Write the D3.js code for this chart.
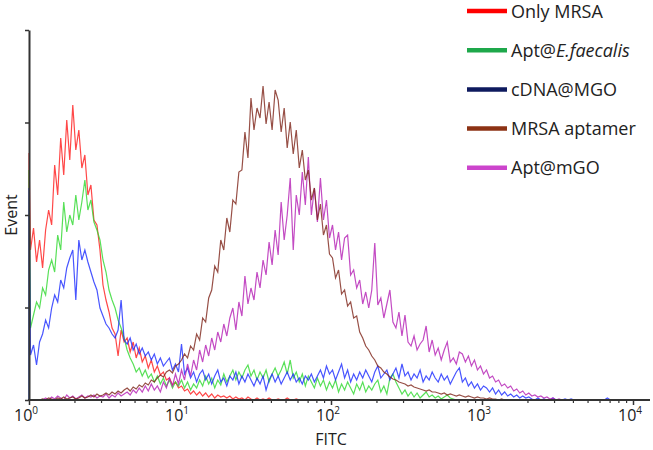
<!DOCTYPE html>
<html>
<head>
<meta charset="utf-8">
<script src="https://cdn.jsdelivr.net/npm/d3@7"></script>
<style>
  body { margin: 0; background: #fff; }
  text { font-family: "Open Sans", sans-serif; fill: #222; }
</style>
</head>
<body>
<div id="chart"></div>
<script>
// channels: 50 per decade, starting at 10^0
var binsPerDecade = 50;

var seriesNames = ["Only MRSA", "Apt@E.faecalis", "cDNA@MGO", "MRSA aptamer", "Apt@mGO"];
var lineColors = ["#ff1a1a", "#2ed82e", "#1a2bff", "#7d2318", "#b41eb4"];
var legendColors = ["#ff0000", "#1ea84b", "#0e1a5e", "#8c3214", "#cc44cc"];

// events piled up in the first channel (off-scale low)
var firstChannel = [247, 230, 212, 0, 0];

var onlyMRSA = [150,172,138,160,132,170,190,175,235,205, 262,225,280,240,295,250,270,232,245,205,
  215,180,175,150,115,100,88,72,66,44, 70,58,62,48,58,42,52,38,44,32,
  40,28,34,25,28,20,22,15,18,12, 14,9,11,6,9,5,8,4,7,3,
  6,2,5,3,4,2,4,1,3,1, 2,0,3,1,0,2,0,1,0,2, 0,0,1,0,0,2,0,0,1];

var aptEfaecalis = [72,85,98,92,112,105,130,140,128,165, 150,198,168,185,175,205,180,198,220,190,
  200,178,170,160,140,128,110,100,92,80, 72,62,50,42,36,28,32,24,30,22,
  26,18,24,16,22,14,20,12,18,14, 20,12,18,10,16,12,20,14,24,16,
  22,12,20,15,26,18,24,30,20,28, 22,30,35,24,30,20,28,22,30,18,
  26,32,24,30,38,26,40,22,28,18, 26,14,24,18,12,22,14,20,10,18,
  12,20,8,16,10,18,12,6,16,10, 18,8,14,10,16,20,8,14,6,22,
  26,18,12,6,10,4,8,3,7,2, 5,8,3,5,2,4,1,3,5,2, 1];

var cDNAmgo = [45,55,35,58,66,80,72,92,105,98, 120,112,132,142,150,100,160,140,150,138,
  128,118,110,92,84,76,72,66,62,70, 100,60,56,62,50,56,46,52,44,48,
  40,46,36,42,34,38,42,30,36,28, 56,26,32,22,28,18,26,30,20,26,
  16,24,30,18,22,14,24,20,28,16, 24,18,26,20,14,22,16,24,10,20,
  26,18,24,16,22,28,20,26,18,22, 16,24,20,26,18,24,30,22,34,26,
  30,20,28,36,22,30,18,26,20,28, 22,30,24,18,28,34,22,26,30,20,
  26,32,22,36,24,28,20,26,22,30, 18,24,20,28,22,18,26,20,24,16,
  22,28,32,18,22,14,18,12,16,10, 14,12,8,12,6,10,5,8,4,6,
  3,5,2,4,2,3,1,0,2,0, 1,0,0,2,0,0,0,1,0,1, 0,0,0,0,0,0,0,0,0,0, 0,2];

var mrsaAptamer = [0,0,0,0,1,0,2,1,0,2, 1,3,1,2,3,1,2,4,2,3,
  5,3,6,4,5,7,5,8,6,9, 7,10,12,9,13,11,15,13,17,15,
  20,18,22,25,23,28,30,27,34,36, 40,46,42,54,50,66,60,82,78,102,
  110,134,128,160,150,182,168,200,196,228, 230,268,242,302,270,292,282,314,276,298,
  270,310,300,268,292,252,278,246,270,232, 250,220,230,200,212,180,196,165,175,146,
  142,122,130,106,110,94,98,82,84,68, 62,54,50,44,40,34,32,28,26,23,
  21,20,18,17,16,14,15,13,12,11, 10,9,10,8,8,7,6,7,5,6,
  5,4,5,4,3,4,3,2,3,2, 2,1,2,1,1,0,1];

var aptMgo = [0,0,0,0,0,2,0,3,1,4, 2,0,5,2,4,1,3,5,2,4,
  3,5,2,4,3,6,2,5,3,7, 4,6,8,5,10,7,12,8,14,9,
  16,10,14,8,18,12,22,14,26,16, 30,20,36,24,40,30,50,38,55,44,
  62,50,68,58,76,64,82,92,70,98, 84,124,96,112,100,128,112,140,125,158,
  135,170,145,198,160,185,222,150,205,185, 228,195,243,185,212,178,222,180,200,162,
  175,150,168,140,162,165,125,130,112,120, 96,108,92,110,157,95,102,82,96,110,
  78,72,88,64,85,58,54,64,50,56, 60,74,48,60,45,52,40,50,58,38,
  42,36,48,46,38,44,34,40,30,34, 26,30,22,24,18,20,14,16,12,14,
  9,11,7,9,5,7,4,5,3,4, 2,3,1,2,0,1];

var seriesValues = [onlyMRSA, aptEfaecalis, cDNAmgo, mrsaAptamer, aptMgo];
var drawOrder = [0, 1, 2, 4, 3];

var decades = [1, 10, 100, 1000, 10000];
var decadeExponents = ["0", "1", "2", "3", "4"];
var yMax = 370;
var yTicks = [0, 1, 2, 3, 4].map(function(k) { return k * yMax / 4; });

var width = 653, height = 450;

var svg = d3.select("#chart").append("svg")
  .attr("width", width)
  .attr("height", height);

var x = d3.scaleLog().domain([1, 10000]).range([29, 633]);
var y = d3.scaleLinear().domain([0, yMax]).range([400, 30]);

// one point per channel centre, plus the off-scale spike on the axis
function histPoints(values, spike) {
  var pts = [[1, 0]];
  if (spike > 0) pts.push([1, spike]);
  values.forEach(function(v, i) {
    pts.push([Math.pow(10, (i + 0.5) / binsPerDecade), v]);
  });
  pts.push([Math.pow(10, (values.length + 0.5) / binsPerDecade), 0]);
  return pts;
}

var line = d3.line()
  .x(function(d) { return x(d[0]); })
  .y(function(d) { return y(d[1]); });

var plot = svg.append("g").attr("class", "plot");
drawOrder.forEach(function(s) {
  plot.append("path")
    .datum(histPoints(seriesValues[s], firstChannel[s]))
    .attr("d", line)
    .attr("fill", "none")
    .attr("stroke", lineColors[s])
    .attr("stroke-width", 1.2)
    .attr("stroke-opacity", 0.8);
});

// y axis
var yAxis = svg.append("g")
  .attr("transform", "translate(29,0)")
  .call(d3.axisLeft(y).tickValues(yTicks).tickSize(4).tickSizeOuter(0).tickFormat(""));
yAxis.select(".domain").attr("stroke", "#333").attr("stroke-width", 2);
yAxis.selectAll(".tick line").attr("stroke", "#333").attr("stroke-width", 1.5);

// x axis
var minorTicks = [];
decades.slice(0, 4).forEach(function(d) {
  for (var k = 2; k < 10; k++) minorTicks.push(d * k);
});

var xAxis = svg.append("g").attr("transform", "translate(0,400)");
xAxis.call(d3.axisBottom(x).tickValues(decades).tickSize(5).tickFormat(""));
xAxis.select(".domain").remove();
xAxis.selectAll(".tick line").attr("stroke", "#333").attr("stroke-width", 1.5);

var xMinor = svg.append("g").attr("transform", "translate(0,400)");
xMinor.call(d3.axisBottom(x).tickValues(minorTicks).tickSize(3).tickFormat(""));
xMinor.select(".domain").remove();
xMinor.selectAll(".tick line").attr("stroke", "#333").attr("stroke-width", 1.2);

svg.append("line")
  .attr("x1", 28).attr("x2", 650)
  .attr("y1", 400).attr("y2", 400)
  .attr("stroke", "#333").attr("stroke-width", 2);

var labels = svg.append("g").selectAll("text")
  .data(decades)
  .enter().append("text")
  .attr("x", function(d) { return x(d) - 3; })
  .attr("y", 421)
  .attr("text-anchor", "middle")
  .style("font-size", "16px");
labels.append("tspan").text("10");
labels.append("tspan")
  .attr("dy", -7)
  .style("font-size", "10px")
  .text(function(d, i) { return decadeExponents[i]; });

svg.append("text")
  .attr("x", 331).attr("y", 445)
  .attr("text-anchor", "middle")
  .style("font-size", "16px")
  .text("FITC");

svg.append("text")
  .attr("transform", "translate(17,215) rotate(-90)")
  .attr("text-anchor", "middle")
  .style("font-size", "16px")
  .text("Event");

// legend
var legend = svg.append("g").selectAll("g")
  .data(seriesNames)
  .enter().append("g")
  .attr("transform", function(d, i) { return "translate(467," + (11 + i * 39.2) + ")"; });

legend.append("line")
  .attr("x1", 0).attr("x2", 40)
  .attr("stroke", function(d, i) { return legendColors[i]; })
  .attr("stroke-width", 4.5);

var legendText = legend.append("text")
  .attr("x", 44).attr("y", 6.5)
  .style("font-size", "18px");
legendText.each(function(d) {
  var t = d3.select(this);
  if (d === "Apt@E.faecalis") {
    t.append("tspan").text("Apt@");
    t.append("tspan").style("font-style", "italic").text("E.faecalis");
  } else {
    t.text(d);
  }
});
</script>
</body>
</html>
